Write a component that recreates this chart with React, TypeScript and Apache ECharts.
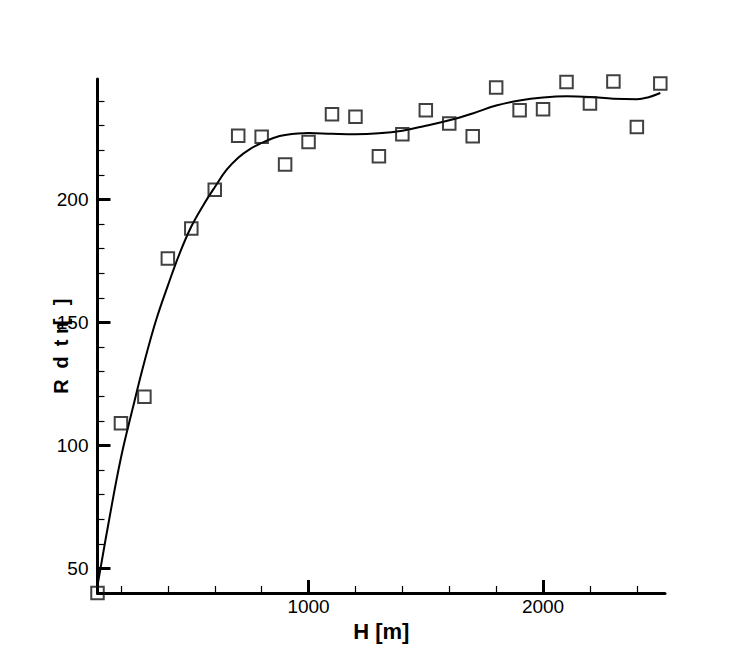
import React, { useEffect, useRef } from "react";
import * as echarts from "echarts";

// Measured samples: height H [m] and response value
const sampleH = [
  100, 200, 300, 400, 500, 600, 700, 800, 900, 1000, 1100, 1200, 1300,
  1400, 1500, 1600, 1700, 1800, 1900, 2000, 2100, 2200, 2300, 2400, 2500,
];
const sampleR = [
  40, 109, 119.8, 176, 188.2, 204, 225.9, 225.5, 214.2, 223.4, 234.7, 233.6,
  217.6, 226.5, 236.3, 230.9, 225.7, 245.5, 236.3, 236.7, 247.8, 239, 248,
  229.5, 247.2,
];

// Fitted trend curve
const fitH = [
  100, 150, 200, 250, 300, 350, 400, 450, 500, 550, 600, 650, 700, 750, 800,
  850, 900, 1000, 1100, 1200, 1300, 1400, 1500, 1600, 1700, 1800, 1900, 2000,
  2100, 2200, 2300, 2400, 2450, 2500,
];
const fitR = [
  43, 70, 95, 115, 134, 151, 165, 178, 189, 197.5, 205, 212, 217, 220.5, 223,
  225, 226.2, 227, 226.7, 226.5, 226.9, 228, 230, 232.2, 235, 238.2, 240.3,
  241.5, 242, 241.7, 241, 240.8, 241.6, 243.3,
];

// Axis ticks
const xMajorTicks = [1000, 2000];
const xMinorTicks = [200, 400, 600, 800, 1200, 1400, 1600, 1800, 2200, 2400];
const yMajorTicks = [50, 100, 150, 200];
const yMinorTicks = [
  60, 70, 80, 90, 110, 120, 130, 140, 160, 170, 180, 190, 210, 220, 230, 240,
];

const X_MIN = 100;
const X_MAX = 2520;
const Y_MIN = 40;
const Y_MAX = 249;

const FONT = "'Liberation Sans', Arial, Helvetica, sans-serif";

// Rotated y-axis title glyphs: [text, centre y]
const yTitleGlyphs: [string, number][] = [
  ["R", 386.5],
  ["d", 362.5],
  ["t", 343],
  ["n", 328],
  ["[", 322],
  ["]", 302],
];

export default function App() {
  const ref = useRef<HTMLDivElement>(null);

  useEffect(() => {
    if (!ref.current) return;
    const chart = echarts.init(ref.current, undefined, { renderer: "svg" });

    const baseX = {
      type: "value" as const,
      min: X_MIN,
      max: X_MAX,
      position: "bottom" as const,
      splitLine: { show: false },
    };
    const baseY = {
      type: "value" as const,
      min: Y_MIN,
      max: Y_MAX,
      position: "left" as const,
      splitLine: { show: false },
    };

    chart.setOption({
      animation: false,
      backgroundColor: "#ffffff",
      grid: { left: 97.5, right: 85, top: 79, bottom: 74, containLabel: false },
      xAxis: [
        {
          ...baseX,
          name: "H [m]",
          nameLocation: "middle",
          nameGap: 22,
          nameTextStyle: {
            color: "#000",
            fontFamily: FONT,
            fontSize: 22,
            fontWeight: "bold",
          },
          axisLine: { show: true, lineStyle: { color: "#000", width: 3 } },
          axisTick: {
            show: true,
            inside: true,
            length: 13,
            lineStyle: { color: "#000", width: 3 },
            customValues: xMajorTicks,
          },
          axisLabel: {
            show: true,
            margin: 4,
            color: "#000",
            fontFamily: FONT,
            fontSize: 19,
            customValues: xMajorTicks,
            formatter: (v: number) => String(v),
          },
        },
        {
          ...baseX,
          axisLine: { show: false },
          axisTick: {
            show: true,
            inside: true,
            length: 7,
            lineStyle: { color: "#000", width: 1.2 },
            customValues: xMinorTicks,
          },
          axisLabel: { show: false },
        },
      ],
      yAxis: [
        {
          ...baseY,
          axisLine: { show: true, lineStyle: { color: "#000", width: 3 } },
          axisTick: {
            show: true,
            inside: true,
            length: 13,
            lineStyle: { color: "#000", width: 3 },
            customValues: yMajorTicks,
          },
          axisLabel: {
            show: true,
            margin: 9,
            color: "#000",
            fontFamily: FONT,
            fontSize: 19,
            customValues: yMajorTicks,
            formatter: (v: number) => String(v),
          },
        },
        {
          ...baseY,
          axisLine: { show: false },
          axisTick: {
            show: true,
            inside: true,
            length: 7,
            lineStyle: { color: "#000", width: 1.2 },
            customValues: yMinorTicks,
          },
          axisLabel: { show: false },
        },
      ],
      graphic: yTitleGlyphs.map(([t, y]) => ({
        type: "text",
        x: 61,
        y,
        rotation: Math.PI / 2,
        silent: true,
        style: {
          text: t,
          fill: "#000",
          font: `bold 20px ${FONT}`,
          align: "center",
          verticalAlign: "middle",
        },
      })),
      series: [
        {
          type: "line",
          xAxisIndex: 0,
          yAxisIndex: 0,
          data: fitH.map((h, i) => [h, fitR[i]]),
          smooth: 0.4,
          showSymbol: false,
          lineStyle: { color: "#000", width: 2 },
          z: 2,
        },
        {
          type: "scatter",
          xAxisIndex: 0,
          yAxisIndex: 0,
          data: sampleH.map((h, i) => [h, sampleR[i]]),
          symbol: "rect",
          symbolSize: 12.5,
          clip: false,
          itemStyle: {
            color: "rgba(255,255,255,0)",
            borderColor: "#111",
            borderWidth: 2,
          },
          z: 3,
        },
      ],
    });

    return () => chart.dispose();
  }, []);

  return (
    <div
      ref={ref}
      style={{ position: "absolute", left: 0, top: 0, width: 750, height: 667 }}
    />
  );
}
